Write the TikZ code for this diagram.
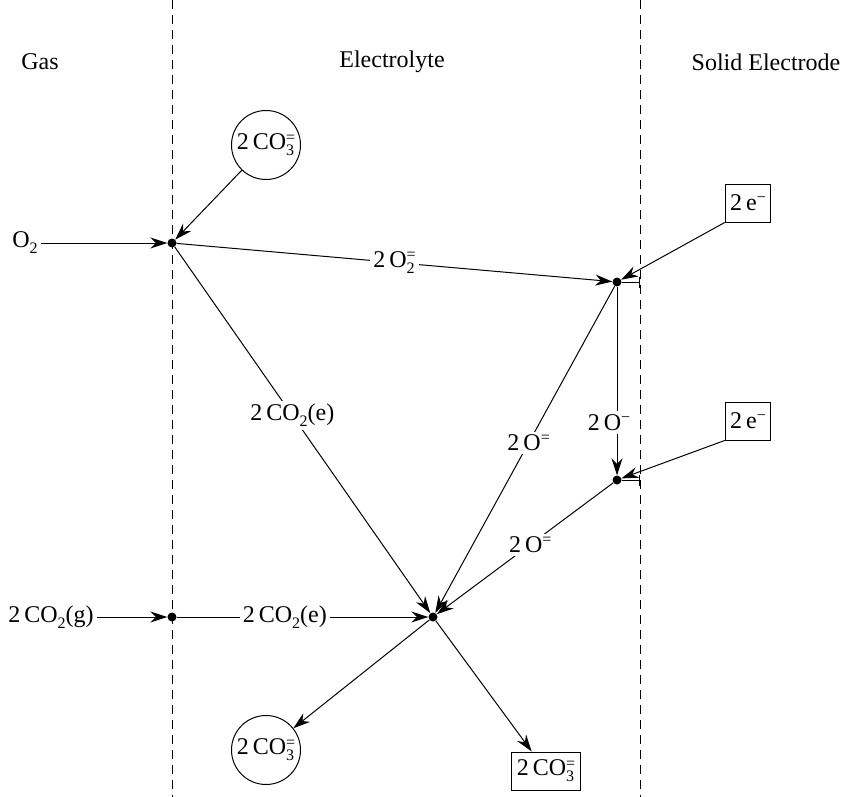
\documentclass[tikz,border=0pt]{standalone}
\usepackage{fontspec}
\setmainfont{Liberation Serif}
\usetikzlibrary{arrows.meta}
\newcommand{\sbsp}[2]{\raisebox{-0.55ex}{\fontsize{16}{12}\selectfont\lineskip=1.5pt\shortstack[l]{#2\\#1}}}
\newcommand{\sbonly}[1]{\raisebox{-0.55ex}{\fontsize{16}{16}\selectfont #1}}
\newcommand{\sponly}[1]{\raisebox{0.75ex}{\fontsize{16}{16}\selectfont #1}}
\begin{document}
\begin{tikzpicture}[x=1pt,y=-1pt,
  every node/.style={font=\fontsize{24}{26}\selectfont},
  arr/.style={-{Stealth[length=17pt,width=11pt]}, line width=1pt},
  ln/.style={line width=1pt},
  dot/.style={circle, fill=black, inner sep=0pt, minimum size=9pt},
  lab/.style={fill=white, inner sep=3pt},
  circ/.style={circle, draw, line width=1pt, minimum size=69pt, inner sep=0pt},
  box/.style={draw, line width=1pt, inner xsep=5pt, minimum height=38pt},
  dsh/.style={dash pattern=on 9pt off 6pt, line width=0.8pt}]
\useasboundingbox (0,0) rectangle (846,797);
% boundaries
\coordinate (t1) at (172,0); \coordinate (b1) at (172,797);
\coordinate (t2) at (640,0); \coordinate (b2) at (640,797);
\draw[dsh] (t1) -- (b1);
\draw[dsh] (t2) -- (b2);
% headers
\node (gas) at (40,62) {Gas};
\node (ely) at (392,62) {Electrolyte};
\node (sol) at (766,62) {Solid Electrode};
% nodes
\node[circ] (c1) at (266,145) {2\,CO\sbsp{3}{=}};
\node (o2) at (25,243) {O\sbonly{2}};
\node[dot] (d1) at (172,243) {};
\node[dot] (d2) at (617,282) {};
\node[dot] (d3) at (617,480) {};
\node[dot] (d4) at (433,617) {};
\node[dot] (d5) at (172,617) {};
\node[box] (e1) at (748,203) {2\,e\sponly{−}};
\node[box] (e2) at (748,421) {2\,e\sponly{−}};
\node (co2g) at (51,617) {2\,CO\sbonly{2}(g)};
\node[circ] (c2) at (266,750) {2\,CO\sbsp{3}{=}};
\node[box] (c3) at (546,771) {2\,CO\sbsp{3}{=}};
\coordinate (k2) at (640,282);
\coordinate (k3) at (640,480);
% connectors
\draw[arr] (o2) -- (d1);
\draw[arr] (c1) -- (d1);
\draw[arr] (d1) -- node[lab, pos=0.5] {2\,O\sbsp{2}{=}} (d2);
\draw[ln,-{Bar[width=11pt]}] (d2) -- (k2);
\draw[ln,-{Bar[width=11pt]}] (d3) -- (k3);
\draw[arr] (e1.south west) -- (d2);
\draw[arr] (e2.south west) -- (d3);
\draw[arr] (d2) -- node[lab, pos=0.72, xshift=-8pt] {2\,O\sponly{−}} (d3);
\draw[arr] (d2) -- node[lab, pos=0.48] {2\,O\sponly{=}} (d4);
\draw[arr] (d3) -- node[lab, pos=0.47] {2\,O\sponly{=}} (d4);
\draw[arr] (d1) -- node[lab, pos=0.46] {2\,CO\sbonly{2}(e)} (d4);
\draw[arr] (co2g) -- (d5);
\draw[arr] (d5) -- node[lab, pos=0.43] {2\,CO\sbonly{2}(e)} (d4);
\draw[arr] (d4) -- (c2);
\draw[arr] (d4) -- (c3);
\end{tikzpicture}
\end{document}
